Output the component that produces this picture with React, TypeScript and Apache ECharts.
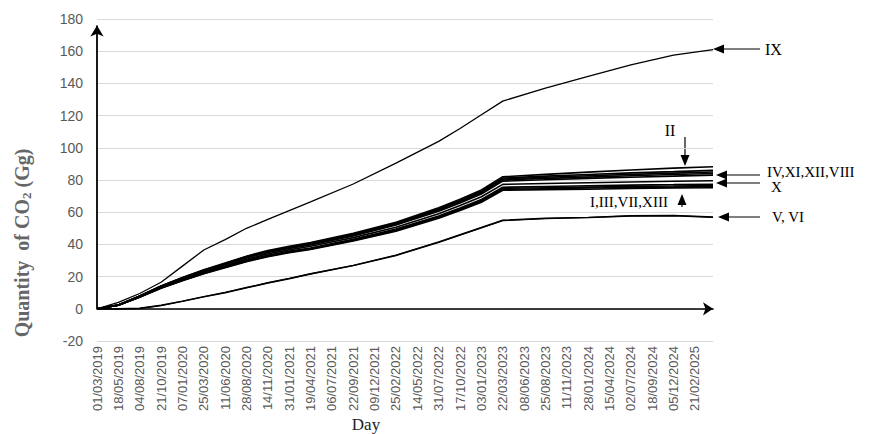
import React, { useEffect, useRef } from "react";
import * as echarts from "echarts";

// Day offsets from 01/03/2019
const DAYS = [0, 78, 156, 234, 312, 390, 468, 546, 624, 702, 780, 936, 1092, 1248, 1326, 1404, 1482, 1638, 1794, 1950, 2106, 2250];

const S_IX = [0, 4, 9.5, 16.5, 26.5, 36.5, 43, 50, 55.5, 61, 66.4, 77.5, 90.5, 104, 112, 120.5, 129, 137, 144.3, 151.5, 157.6, 161];
const S_II = [0, 2.4, 8.0, 14.2, 19.5, 24.2, 28.5, 32.7, 36.2, 38.8, 41.1, 46.9, 53.8, 62.7, 68.0, 73.8, 82.0, 83.5, 84.9, 86.2, 87.4, 88.2];
const S_IV = [0, 2.4, 7.9, 14.1, 19.3, 24.0, 28.2, 32.4, 35.8, 38.4, 40.7, 46.5, 53.2, 62.1, 67.3, 73.1, 81.2, 82.4, 83.4, 84.4, 85.2, 86.0];
const S_XI = [0, 2.4, 7.9, 14.0, 19.2, 23.8, 28.0, 32.1, 35.5, 38.1, 40.4, 46.1, 52.8, 61.6, 66.8, 72.5, 80.6, 81.7, 82.6, 83.5, 84.3, 85.0];
const S_XII = [0, 2.4, 7.8, 13.9, 19.0, 23.6, 27.8, 31.9, 35.3, 37.8, 40.1, 45.7, 52.4, 61.2, 66.3, 72.0, 80.0, 81.0, 81.8, 82.6, 83.4, 84.0];
const S_VIII = [0, 2.3, 7.7, 13.8, 18.9, 23.4, 27.5, 31.6, 35.0, 37.5, 39.7, 45.3, 52.0, 60.6, 65.7, 71.3, 79.3, 80.2, 81.0, 81.7, 82.4, 83.0];
const S_X = [0, 2.3, 7.6, 13.4, 18.4, 22.9, 26.8, 30.8, 34.1, 36.6, 38.8, 44.2, 50.7, 59.1, 64.1, 69.6, 77.3, 77.8, 78.3, 78.8, 79.2, 79.5];
const S_I = [0, 2.2, 7.4, 13.1, 17.9, 22.3, 26.2, 30.1, 33.3, 35.7, 37.8, 43.2, 49.5, 57.7, 62.6, 67.9, 75.5, 76.0, 76.4, 76.8, 77.1, 77.4];
const S_III = [0, 2.2, 7.3, 13.0, 17.8, 22.1, 25.9, 29.8, 33.0, 35.4, 37.5, 42.8, 49.0, 57.2, 62.0, 67.3, 74.8, 75.2, 75.6, 76.0, 76.3, 76.6];
const S_VII = [0, 2.2, 7.3, 12.9, 17.6, 21.9, 25.8, 29.6, 32.7, 35.1, 37.2, 42.5, 48.7, 56.8, 61.5, 66.8, 74.2, 74.6, 75.0, 75.3, 75.6, 75.9];
const S_XIII = [0, 2.2, 7.2, 12.8, 17.5, 21.8, 25.5, 29.3, 32.4, 34.8, 36.9, 42.1, 48.2, 56.3, 61.0, 66.2, 73.6, 74.0, 74.3, 74.7, 75.0, 75.2];
const S_V = [0, 0, 0.3, 2.2, 4.8, 7.6, 10.2, 13.2, 16.2, 18.9, 21.8, 27, 33.3, 41.5, 46, 50.5, 55, 56.2, 56.8, 57.8, 58, 57];
const S_VI = [0, 0, 0.2, 2.0, 4.6, 7.4, 10.0, 13.0, 16.0, 18.7, 21.6, 26.8, 33.1, 41.3, 45.8, 50.3, 54.8, 56.0, 56.6, 57.6, 57.8, 56.8];

const SERIES: [string, number[], number][] = [
  ["IX", S_IX, 1.3],
  ["II", S_II, 1.6],
  ["IV", S_IV, 1.6],
  ["XI", S_XI, 1.6],
  ["XII", S_XII, 1.6],
  ["VIII", S_VIII, 1.6],
  ["X", S_X, 1.6],
  ["I", S_I, 1.6],
  ["III", S_III, 1.6],
  ["VII", S_VII, 1.6],
  ["XIII", S_XIII, 1.6],
  ["V", S_V, 1.4],
  ["VI", S_VI, 1.4],
];

const LABEL_INTERVAL = 78;
const X_MAX = 2250;
const Y_MIN = -20;
const Y_MAX = 180;

function fmtDate(v: number): string {
  const d = new Date(Date.UTC(2019, 2, 1) + v * 86400000);
  const dd = String(d.getUTCDate()).padStart(2, "0");
  const mm = String(d.getUTCMonth() + 1).padStart(2, "0");
  return `${dd}/${mm}/${d.getUTCFullYear()}`;
}

const SERIF = "'Liberation Serif', 'Times New Roman', serif";
const SANS = "'Liberation Sans', Arial, sans-serif";

function arrowH(x1: number, x2: number, y: number) {
  return [
    { type: "line", shape: { x1, y1: y, x2: x2 + 8, y2: y }, style: { stroke: "#000", lineWidth: 1.2 } },
    { type: "polygon", shape: { points: [[x2, y], [x2 + 11, y - 4.5], [x2 + 11, y + 4.5]] }, style: { fill: "#000" } },
  ];
}
function arrowV(x: number, y1: number, y2: number) {
  const dir = y2 > y1 ? 1 : -1;
  return [
    { type: "line", shape: { x1: x, y1, x2: x, y2: y2 - dir * 8 }, style: { stroke: "#000", lineWidth: 1.2 } },
    { type: "polygon", shape: { points: [[x, y2], [x - 4.5, y2 - dir * 11], [x + 4.5, y2 - dir * 11]] }, style: { fill: "#000" } },
  ];
}
function label(text: string, x: number, y: number, align = "left", size = 16) {
  return {
    type: "text",
    x,
    y,
    style: { text, font: `${size}px ${SERIF}`, fill: "#000", align, verticalAlign: "middle" },
  };
}

export default function App() {
  const ref = useRef<HTMLDivElement>(null);
  useEffect(() => {
    if (!ref.current) return;
    const chart = echarts.init(ref.current, null, { renderer: "svg" });
    const series: any[] = SERIES.map(([name, vals, w]) => ({
      name,
      type: "line",
      data: DAYS.map((d, i) => [d, vals[i]]),
      showSymbol: false,
      smooth: false,
      lineStyle: { color: "#000", width: w },
      itemStyle: { color: "#000" },
      z: 3,
    }));
    series[0].markLine = {
      silent: true,
      symbol: ["none", "arrow"],
      symbolSize: [10, 11],
      label: { show: false },
      lineStyle: { color: "#000", width: 1.8, type: "solid" },
      data: [[{ coord: [0, 0] }, { coord: [0, 176] }]],
    };
    const graphic: any[] = [
      {
        type: "text",
        x: 22,
        y: 243,
        rotation: Math.PI / 2,
        style: {
          text: "Quantity  of CO{sub|2} (Gg)",
          font: `bold 20px ${SERIF}`,
          fill: "#666",
          align: "center",
          verticalAlign: "middle",
          rich: {
            sub: { font: `bold 13px ${SERIF}`, fill: "#666", verticalAlign: "bottom", padding: [8, 0, 0, 0] },
          },
        },
      },
      { type: "text", x: 366, y: 424, style: { text: "Day", font: `17px ${SERIF}`, fill: "#222", align: "center", verticalAlign: "middle" } },
      ...arrowH(760, 713, 49),
      label("IX", 765, 49),
      ...arrowV(685, 137, 166),
      label("II", 670, 130, "center"),
      ...arrowH(760, 716, 175),
      label("IV,XI,XII,VIII", 767, 172, "left", 15),
      ...arrowH(760, 716, 183),
      label("X", 771, 187, "left", 15),
      ...arrowV(682, 207, 194),
      label("I,III,VII,XIII", 629, 202, "center", 15),
      ...arrowH(760, 718, 217),
      label("V, VI", 772, 217, "left", 15),
    ];
    chart.setOption({
      animation: false,
      backgroundColor: "#fff",
      grid: { left: 97, right: 159, top: 19, bottom: 93, containLabel: false },
      xAxis: {
        type: "value",
        min: 0,
        max: X_MAX,
        interval: LABEL_INTERVAL,
        axisLine: {
          show: true,
          onZero: true,
          symbol: ["none", "arrow"],
          symbolSize: [10, 10],
          lineStyle: { color: "#000", width: 1.6 },
        },
        axisTick: { show: false },
        splitLine: { show: false },
        axisLabel: {
          rotate: 90,
          margin: 5,
          color: "#595959",
          fontFamily: SANS,
          fontSize: 13,
          showMaxLabel: false,
          formatter: (v: number) => (v % LABEL_INTERVAL === 0 ? fmtDate(v) : ""),
        },
      },
      yAxis: {
        type: "value",
        min: Y_MIN,
        max: Y_MAX,
        interval: 20,
        axisLine: { show: false },
        axisTick: { show: false },
        splitLine: { show: true, lineStyle: { color: "#d9d9d9", width: 1 } },
        axisLabel: { margin: 14, color: "#595959", fontFamily: SANS, fontSize: 14 },
      },
      series,
      graphic,
    });
    return () => chart.dispose();
  }, []);
  return <div ref={ref} style={{ width: 872, height: 434, position: "absolute", left: 0, top: 0 }} />;
}
